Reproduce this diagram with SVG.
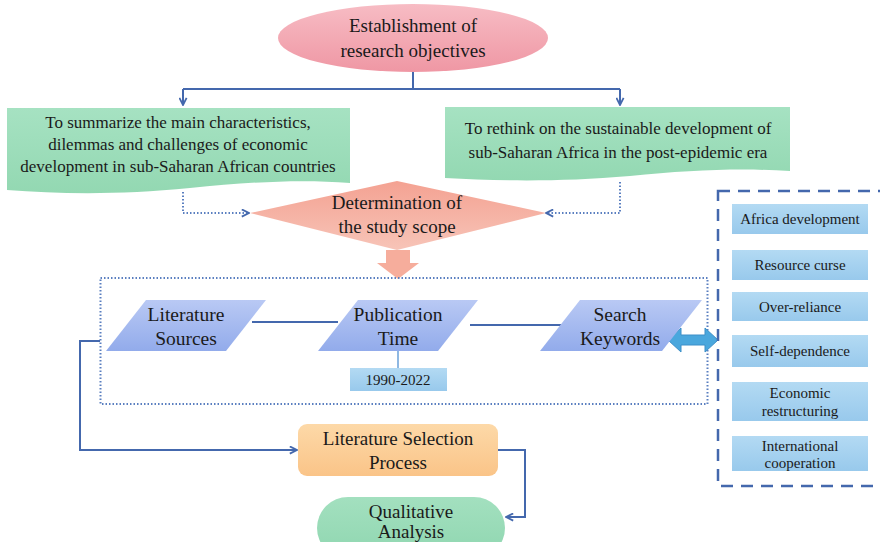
<svg xmlns="http://www.w3.org/2000/svg" width="880" height="542" viewBox="0 0 880 542" font-family="'Liberation Serif', 'DejaVu Serif', serif">
<defs>
<linearGradient id="gPink" x1="0" y1="0" x2="0" y2="1"><stop offset="0" stop-color="#f7bcc4"/><stop offset="1" stop-color="#ef97a4"/></linearGradient>
<linearGradient id="gGreen" x1="0" y1="0" x2="0" y2="1"><stop offset="0" stop-color="#a6e2c2"/><stop offset="1" stop-color="#93d8b2"/></linearGradient>
<linearGradient id="gSalmon" x1="0" y1="0" x2="0" y2="1"><stop offset="0" stop-color="#f4a292"/><stop offset="1" stop-color="#f7c4b8"/></linearGradient>
<linearGradient id="gPara" x1="0" y1="0" x2="0" y2="1"><stop offset="0" stop-color="#b9c9f4"/><stop offset="1" stop-color="#92abeb"/></linearGradient>
<linearGradient id="gKey" x1="0" y1="0" x2="0" y2="1"><stop offset="0" stop-color="#b3daf3"/><stop offset="1" stop-color="#98c9ec"/></linearGradient>
<linearGradient id="gOrange" x1="0" y1="0" x2="0" y2="1"><stop offset="0" stop-color="#fdd9a8"/><stop offset="1" stop-color="#fac488"/></linearGradient>
<linearGradient id="gQual" x1="0" y1="0" x2="0" y2="1"><stop offset="0" stop-color="#a3e0bf"/><stop offset="1" stop-color="#8fd6b0"/></linearGradient>
<marker id="arr" viewBox="0 0 10 10" refX="9" refY="5" markerWidth="9" markerHeight="9" markerUnits="userSpaceOnUse" orient="auto"><path d="M1,1 L9,5 L1,9" fill="none" stroke="#4468ad" stroke-width="2"/></marker>
</defs>
<style>
text{font-family:'Liberation Serif','DejaVu Serif',serif;fill:#1a1a1a;text-anchor:middle}
.t19{font-size:19px}
.t20{font-size:19.5px}
.t17{font-size:17px}
.t15{font-size:15px}
.ln{fill:none;stroke:#4468ad;stroke-width:2}
.dot{fill:none;stroke:#5a7fc0;stroke-width:2;stroke-dasharray:1.5 2}
.key{fill:url(#gKey)}
</style>

<g id="connectors">
<path class="ln" d="M413,72 V89"/>
<path class="ln" d="M183,89 H620"/>
<path class="ln" d="M183,89 V105" marker-end="url(#arr)"/>
<path class="ln" d="M620,89 V105" marker-end="url(#arr)"/>
<path class="dot" d="M183,192 V213 H249" marker-end="url(#arr)"/>
<path class="dot" d="M620,182 V213 H546" marker-end="url(#arr)"/>
<path d="M386,250 H410 V263 H419 L398,279 L377,263 H386 Z" fill="#f6ad9c"/>
<rect x="100.5" y="278" width="607" height="126" class="dot"/>
<path class="ln" d="M252,322 H338"/>
<path class="ln" d="M470,325 H562"/>
<path d="M398,351 V368" stroke="#6aa0d8" stroke-width="1.5"/>
<path d="M668,340 L681,328 V335 H705 V328 L718,340 L705,352 V345 H681 V352 Z" fill="#4aa7dd" stroke="#3d8fc8" stroke-width="1"/>
<path class="ln" d="M100,341 H80 V450 H297" marker-end="url(#arr)"/>
<path class="ln" d="M498,450 H525 V517 H506" marker-end="url(#arr)"/>
<rect x="718" y="191" width="170" height="295" fill="none" stroke="#4468ad" stroke-width="2.5" stroke-dasharray="12 8"/>
</g>

<g id="n-objectives">
<ellipse cx="413" cy="38" rx="135" ry="34" fill="url(#gPink)"/>
<text class="t19" x="413" y="32">Establishment of</text>
<text class="t19" x="413" y="57">research objectives</text>
</g>

<g id="n-summarize">
<path d="M7,108 H350 V183 C300,179 250,182 190,188 C120,195 60,194 7,190 Z" fill="url(#gGreen)"/>
<text class="t17" x="178" y="128">To summarize the main characteristics,</text>
<text class="t17" x="178" y="150">dilemmas and challenges of economic</text>
<text class="t17" x="178" y="172">development in sub-Saharan African countries</text>
</g>

<g id="n-rethink">
<path d="M445,107 H790 V171 C740,168 690,170 630,176 C560,182 500,181 445,178 Z" fill="url(#gGreen)"/>
<text class="t17" x="618" y="134">To rethink on the sustainable development of</text>
<text class="t17" x="618" y="158">sub-Saharan Africa in the post-epidemic era</text>
</g>

<g id="n-scope">
<polygon points="397,181 546,213 397,250 250,213" fill="url(#gSalmon)"/>
<text class="t19" x="397" y="209">Determination of</text>
<text class="t19" x="397" y="233">the study scope</text>
</g>

<g id="n-sources">
<polygon points="146,300 266,300 226,351 106,351" fill="url(#gPara)"/>
<text class="t20" x="186" y="321">Literature</text>
<text class="t20" x="186" y="345">Sources</text>
</g>

<g id="n-pubtime">
<polygon points="358,300 478,300 438,351 318,351" fill="url(#gPara)"/>
<text class="t20" x="398" y="321">Publication</text>
<text class="t20" x="398" y="345">Time</text>
</g>

<g id="n-years">
<rect x="350" y="368" width="97" height="23" fill="url(#gKey)"/>
<text class="t15" x="398" y="385">1990-2022</text>
</g>

<g id="n-keywords">
<polygon points="580,300 702,300 662,351 540,351" fill="url(#gPara)"/>
<text class="t20" x="620" y="321">Search</text>
<text class="t20" x="620" y="345">Keywords</text>
</g>

<g id="k-africa"><rect class="key" x="732" y="204" width="136" height="30"/><text class="t15" x="800" y="224">Africa development</text></g>
<g id="k-resource"><rect class="key" x="732" y="250" width="136" height="30"/><text class="t15" x="800" y="270">Resource curse</text></g>
<g id="k-over"><rect class="key" x="732" y="292" width="136" height="29"/><text class="t15" x="800" y="312">Over-reliance</text></g>
<g id="k-self"><rect class="key" x="732" y="335" width="136" height="32"/><text class="t15" x="800" y="356">Self-dependence</text></g>
<g id="k-econ"><rect class="key" x="732" y="382" width="136" height="39"/><text class="t15" x="800" y="398">Economic</text><text class="t15" x="800" y="416">restructuring</text></g>
<g id="k-intl"><rect class="key" x="732" y="436" width="136" height="35"/><text class="t15" x="800" y="451">International</text><text class="t15" x="800" y="468">cooperation</text></g>

<g id="n-selection">
<rect x="298" y="424" width="200" height="52" rx="9" fill="url(#gOrange)"/>
<text class="t19" x="398" y="445">Literature Selection</text>
<text class="t19" x="398" y="469">Process</text>
</g>

<g id="n-qualitative">
<rect x="317" y="497" width="188" height="62" rx="31" fill="url(#gQual)"/>
<text class="t19" x="411" y="518">Qualitative</text>
<text class="t19" x="411" y="538">Analysis</text>
</g>
</svg>
